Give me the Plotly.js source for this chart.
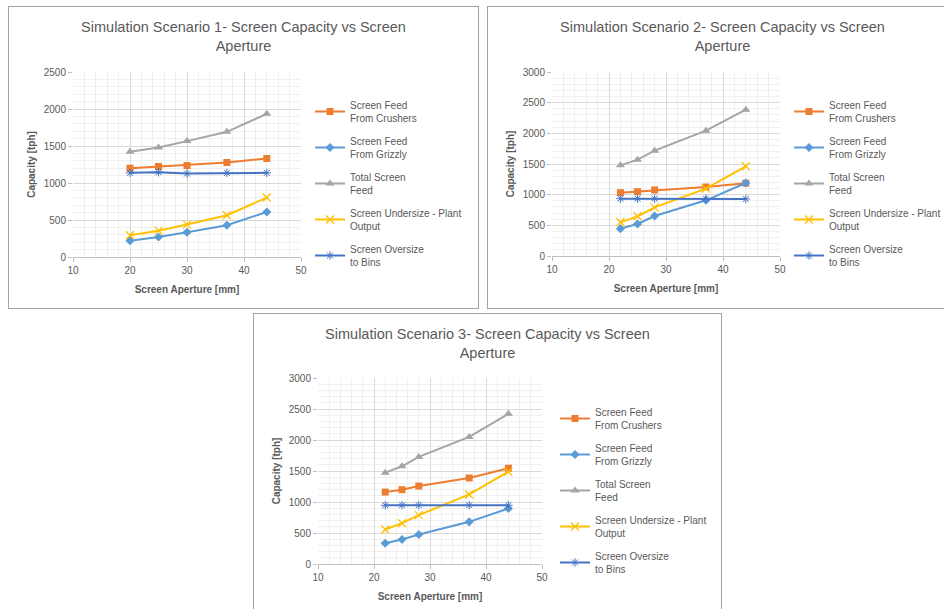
<!DOCTYPE html>
<html>
<head>
<meta charset="utf-8">
<script src="https://cdn.plot.ly/plotly-3.0.1.min.js"></script>
<style>
  html, body { margin: 0; padding: 0; background: #ffffff; overflow: hidden; width: 944px; height: 609px; }
  .chart { position: absolute; border: 1px solid #a3a3a3; box-sizing: border-box; background: #fff; }
  #c1 { left: 8px; top: 6px; width: 471px; height: 303px; }
  #c2 { left: 487px; top: 6px; width: 471px; height: 303px; }
  #c3 { left: 253px; top: 313px; width: 469px; height: 303px; }
</style>
</head>
<body>
<div id="c1" class="chart"></div>
<div id="c2" class="chart"></div>
<div id="c3" class="chart"></div>
<script>
// ---------- data ----------
const seriesNames = [
  'Screen Feed<br>From Crushers',
  'Screen Feed<br>From Grizzly',
  'Total Screen<br>Feed',
  'Screen Undersize - Plant<br>Output',
  'Screen Oversize<br>to Bins'
];

const titles = [
  'Simulation Scenario 1- Screen Capacity vs Screen<br>Aperture',
  'Simulation Scenario 2- Screen Capacity vs Screen<br>Aperture',
  'Simulation Scenario 3- Screen Capacity vs Screen<br>Aperture'
];

const xTitle = 'Screen Aperture [mm]';
const yTitle = 'Capacity [tph]';

// Scenario 1
const s1Aperture  = [20, 25, 30, 37, 44];
const s1Crushers  = [1200, 1223, 1236, 1277, 1331];
const s1Grizzly   = [221, 271, 334, 429, 609];
const s1Total     = [1421, 1480, 1566, 1692, 1936];
const s1Undersize = [293, 356, 438, 564, 803];
const s1Oversize  = [1137, 1146, 1128, 1137, 1137];

// Scenario 2
const s2Aperture  = [22, 25, 28, 37, 44];
const s2Crushers  = [1033, 1049, 1076, 1125, 1188];
const s2Grizzly   = [446, 522, 652, 908, 1190];
const s2Total     = [1478, 1571, 1717, 2043, 2386];
const s2Undersize = [549, 647, 793, 1098, 1462];
const s2Oversize  = [935, 935, 935, 935, 930];

// Scenario 3
const s3Aperture  = [22, 25, 28, 37, 44];
const s3Crushers  = [1160, 1198, 1257, 1387, 1545];
const s3Grizzly   = [335, 394, 475, 680, 896];
const s3Total     = [1473, 1576, 1727, 2050, 2423];
const s3Undersize = [556, 658, 788, 1122, 1489];
const s3Oversize  = [948, 948, 948, 948, 948];

const yMax = [2500, 3000, 3000];

// ---------- styles ----------
const colors  = ['#ED7D31', '#5B9BD5', '#A5A5A5', '#FFC000', '#4472C4'];
const symbols = ['square', 'diamond', 'triangle-up', 'x-thin-open', 'asterisk-open'];
const msizes  = [7, 7, 8, 8, 7];
const mlines  = [0, 0, 0, 1.3, 1];
const FONT = 'Liberation Sans, Arial, sans-serif';
const TXT = '#595959';

function makeChart(div, title, x, ys, ymax, plotW, plotH, top) {
  const traces = ys.map((y, i) => ({
    type: 'scatter', mode: 'lines+markers',
    x: x, y: y, name: seriesNames[i],
    legendgroup: 'g' + i,
    line: { color: colors[i], width: 2 },
    marker: {
      symbol: symbols[i], size: msizes[i], color: colors[i],
      line: { color: colors[i], width: mlines[i] }
    }
  }));
  const W = document.getElementById(div).clientWidth;
  const H = document.getElementById(div).clientHeight;
  const l = 64;
  const layout = {
    width: W, height: H,
    margin: { l: l, r: W - l - plotW, t: top, b: H - top - plotH },
    paper_bgcolor: '#ffffff', plot_bgcolor: '#ffffff',
    font: { family: FONT, color: TXT },
    title: {
      text: title, x: 0.5, xref: 'container', xanchor: 'center',
      y: 1 - 25 / H, yref: 'container', yanchor: 'top',
      font: { family: FONT, size: 14.5, color: TXT }
    },
    showlegend: true,
    legend: {
      xref: 'container', yref: 'container',
      x: 301 / W, xanchor: 'left', y: 1 - 85 / H, yanchor: 'top',
      font: { family: FONT, size: 10, color: TXT },
      traceorder: 'grouped', tracegroupgap: 7,
      maxheight: 1,
      bgcolor: 'rgba(0,0,0,0)'
    },
    xaxis: {
      range: [10, 50], tick0: 0, dtick: 10,
      showgrid: true, gridcolor: '#d9d9d9', gridwidth: 1,
      minor: { dtick: 2, showgrid: true, gridcolor: '#f0f0f0', gridwidth: 1 },
      zeroline: false, showline: true, linecolor: '#bfbfbf', linewidth: 1,
      ticks: 'outside', ticklen: 4, tickcolor: '#bfbfbf',
      tickfont: { family: FONT, size: 10, color: TXT },
      title: { text: '<b>' + xTitle + '</b>', standoff: 10,
               font: { family: FONT, size: 10, color: TXT } }
    },
    yaxis: {
      range: [0, ymax], tick0: 0, dtick: 500,
      showgrid: true, gridcolor: '#d9d9d9', gridwidth: 1,
      minor: { dtick: 100, showgrid: true, gridcolor: '#f0f0f0', gridwidth: 1 },
      zeroline: false, showline: false,
      ticks: 'outside', ticklen: 4, tickcolor: '#bfbfbf',
      tickfont: { family: FONT, size: 10, color: TXT },
      title: { text: '<b>' + yTitle + '</b>', standoff: 6,
               font: { family: FONT, size: 10, color: TXT } }
    }
  };
  Plotly.newPlot(div, traces, layout, { displayModeBar: false, staticPlot: true });
}

makeChart('c1', titles[0], s1Aperture, [s1Crushers, s1Grizzly, s1Total, s1Undersize, s1Oversize], yMax[0], 228, 185, 65);
makeChart('c2', titles[1], s2Aperture, [s2Crushers, s2Grizzly, s2Total, s2Undersize, s2Oversize], yMax[1], 228, 184, 65);
makeChart('c3', titles[2], s3Aperture, [s3Crushers, s3Grizzly, s3Total, s3Undersize, s3Oversize], yMax[2], 224, 186, 64);
</script>
</body>
</html>
